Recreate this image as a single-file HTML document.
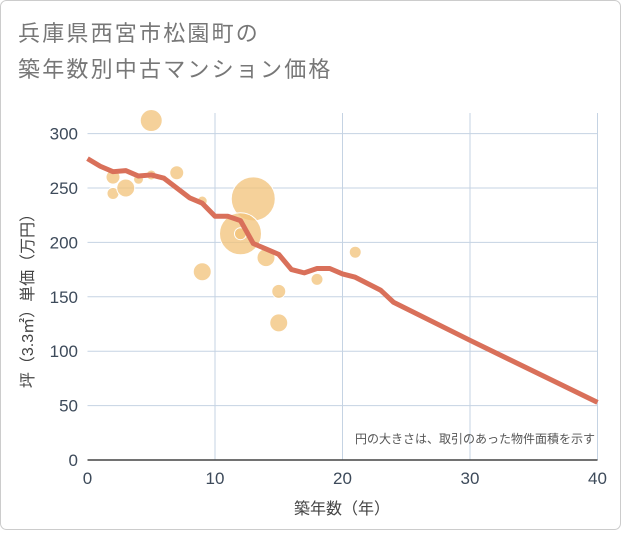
<!DOCTYPE html>
<html><head><meta charset="utf-8"><style>
body{margin:0;background:#fff;}
#wrap{position:relative;width:621px;height:530px;}
text{font-family:"Liberation Sans","Noto Sans CJK JP",sans-serif;}
</style></head><body>
<div id="wrap">
<svg id="chart" width="621" height="530" xmlns="http://www.w3.org/2000/svg">
<rect x="0.5" y="0.5" width="620" height="529" rx="6" fill="#fff" stroke="#ccc"/>
<text x="18" y="41" font-size="22" fill="#777" letter-spacing="2.2">兵庫県西宮市松園町の</text>
<text x="18" y="77" font-size="22" fill="#777" letter-spacing="2.2">築年数別中古マンション価格</text>
<g id="grid"></g><g id="bubbles"></g><g id="line"></g><g id="axes"></g>
<text x="595" y="443" font-size="12" fill="#555" text-anchor="end">円の大きさは、取引のあった物件面積を示す</text>
<text x="342" y="514" font-size="16" fill="#444" text-anchor="middle">築年数（年）</text>
<text transform="translate(33,297) rotate(-90)" font-size="16" fill="#444" text-anchor="middle">坪（3.3㎡）単価（万円）</text>
</svg></div>
<script>
const xTicks=[0,10,20,30,40];
const yTicks=[0,50,100,150,200,250,300];
const bubbleYears=[5,2,2,3,4,5,7,9,13,12,12,9,14,15,15,18,21];
const bubblePrices=[312,260,245,250,258,262,264,238,240,208,208,173,186,155,126,166,191];
const bubbleSizes=[11,7,6,9,5,5,7,5,22,21,6,9,9,7,9,6,6];
const lineYears=[0,1,2,3,4,5,6,7,8,9,10,11,12,13,14,15,16,17,18,19,20,21,22,23,24,30,40];
const linePrices=[277,270,265,266,261,262,259,250,241,236,224,224,220,199,194,189,175,172,176,176,171,168,162,156,145,110,53];
const NS="http://www.w3.org/2000/svg";
const X=v=>87.5+v*12.75, Y=v=>460-v*1.088;
function mk(t,a,p){const e=document.createElementNS(NS,t);for(const k in a)e.setAttribute(k,a[k]);p.appendChild(e);return e;}
const grid=document.getElementById('grid'),axes=document.getElementById('axes');
xTicks.forEach(t=>{if(t>0){const l=mk('line',{x1:X(t),x2:X(t),y1:113,y2:Y(0),stroke:'#c5d3e3','stroke-width':1},grid);

}
const tx=mk('text',{x:X(t),y:484,'font-size':17,fill:'#3d4a5a','text-anchor':'middle','font-family':'DejaVu Sans, sans-serif'},axes);tx.textContent=t;

});
yTicks.forEach(t=>{if(t>0){const l=mk('line',{x1:X(0),x2:X(40),y1:Y(t),y2:Y(t),stroke:'#c5d3e3','stroke-width':1},grid);

}
const tx=mk('text',{x:78,y:Y(t)+6,'font-size':17,fill:'#3d4a5a','text-anchor':'end','font-family':'DejaVu Sans, sans-serif'},axes);tx.textContent=t;

});
const ax=mk('line',{x1:X(0),x2:X(40),y1:Y(0),y2:Y(0),stroke:'#444','stroke-width':1.5},axes);


const bg=document.getElementById('bubbles');
bubbleYears.forEach((yr,i)=>{const c=mk('circle',{cx:X(yr),cy:Y(bubblePrices[i]),r:bubbleSizes[i],fill:'#f2c178','fill-opacity':0.75,stroke:'#fff','stroke-width':1},bg);

});
const p=mk('polyline',{points:lineYears.map((y,i)=>X(y)+','+Y(linePrices[i])).join(' '),fill:'none',stroke:'#d9705a','stroke-width':5,'stroke-linejoin':'round'},document.getElementById('line'));


</script>
</body></html>
